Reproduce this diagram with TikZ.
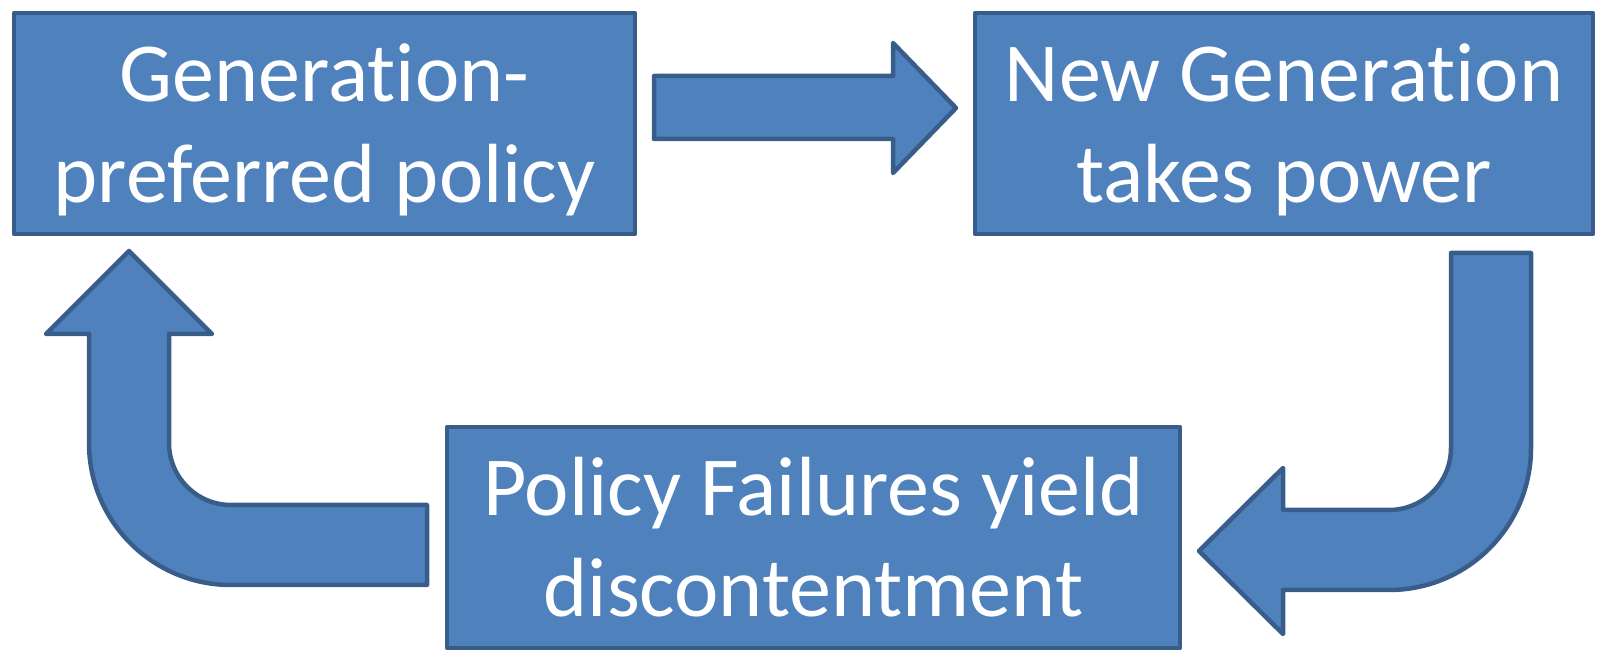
\documentclass[tikz,border=0pt]{standalone}
\usepackage{fontspec}
\setmainfont{Carlito}[Ligatures=NoCommon]
\definecolor{boxfill}{HTML}{4F81BD}
\definecolor{boxline}{HTML}{385D8A}
\tikzset{
    stage/.style={draw=boxline,fill=boxfill,line width=2.25pt,line join=round,text=white,align=center,inner sep=0pt,
        font=\fontsize{42}{50.5}\selectfont,text height=89.5pt,text depth=10pt,minimum height=\bh},
    blockarrow/.style={draw=boxline,fill=boxfill,line width=2.25pt,line join=round}
}
\def\bh{110.5pt}
\def\rin{62}
\def\rout{142}

\begin{document}
\begin{tikzpicture}[x=0.5pt,y=-0.5pt]
  \useasboundingbox (0,0) rectangle (1597,651);

  % Stages
  \node[stage,minimum width=310.5pt] (policy) at (324.5,123.5) {Generation-\\preferred policy};
  \node[stage,minimum width=309pt] (power) at (1284,123.5) {New Generation\\takes power};
  \node[stage,minimum width=366.5pt] (failure) at (813.5,537.5) {Policy Failures yield\\discontentment};

  % Straight arrow
  \draw[blockarrow] (654,76) -- (893,76) -- (893,43) -- (956,108) -- (893,173) -- (893,139) -- (654,139) -- cycle;

  % Bent arrows
  \draw[blockarrow] (1451,253) -- (1531,253) -- (1531,448) arc[start angle=0,end angle=90,radius=\rout]
    -- (1283,590) -- (1283,634) -- (1199,551) -- (1283,468) -- (1283,510) -- (1389,510)
    arc[start angle=90,end angle=0,radius=\rin] -- cycle;
  \draw[blockarrow] (427,505) -- (427,585) -- (231,585) arc[start angle=90,end angle=180,radius=\rout]
    -- (89,334) -- (46,334) -- (129,251) -- (212,334) -- (169,334) -- (169,443)
    arc[start angle=180,end angle=90,radius=\rin] -- cycle;
\end{tikzpicture}
\end{document}
